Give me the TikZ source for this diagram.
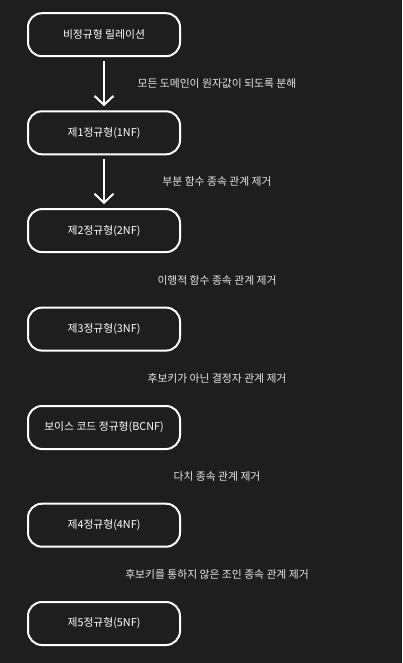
\documentclass[tikz,border=0pt]{standalone}
\usepackage{fontspec}
\setmainfont{Noto Sans CJK KR}
\usetikzlibrary{arrows.meta}
\definecolor{bg}{HTML}{1E1E1E}
\definecolor{lbl}{HTML}{E6E6E6}
\tikzset{
  stage/.style={draw=white, line width=2pt, fill=bg, rounded corners=14pt,
    minimum width=152pt, minimum height=43pt, text=white, font=\fontsize{10.8}{13}\selectfont,
    inner sep=0pt},
  steplabel/.style={text=lbl, font=\fontsize{10.8}{13}\selectfont, inner sep=0pt},
  flow/.style={draw=white, line width=2pt, -{Straight Barb[length=9pt,width=19pt]},
    shorten <=4pt, shorten >=4pt}
}
\begin{document}
\begin{tikzpicture}[x=1pt,y=-1pt]
\fill[bg] (0,0) rectangle (402,663);
\useasboundingbox (0,0) rectangle (402,663);
\node[stage] (n0) at (104,34.7) {비정규형 릴레이션};
\node[stage] (n1) at (104,132.8) {제1정규형(1NF)};
\node[stage] (n2) at (104,230.6) {제2정규형(2NF)};
\node[stage] (n3) at (104,329.1) {제3정규형(3NF)};
\node[stage] (n4) at (104,427.5) {보이스 코드 정규형(BCNF)};
\node[stage] (n5) at (104,525.2) {제4정규형(4NF)};
\node[stage] (n6) at (104,623.5) {제5정규형(5NF)};
\draw[flow] (n0) -- (n1);
\draw[flow] (n1) -- (n2);
\node[steplabel] (l1) at (217,83.7) {모든 도메인이 원자값이 되도록 분해};
\node[steplabel] (l2) at (217,181.8) {부분 함수 종속 관계 제거};
\node[steplabel] (l3) at (217,280) {이행적 함수 종속 관계 제거};
\node[steplabel] (l4) at (217,378.3) {후보키가 아닌 결정자 관계 제거};
\node[steplabel] (l5) at (217,476.2) {다치 종속 관계 제거};
\node[steplabel] (l6) at (217,574.6) {후보키를 통하지 않은 조인 종속 관계 제거};
\end{tikzpicture}
\end{document}
